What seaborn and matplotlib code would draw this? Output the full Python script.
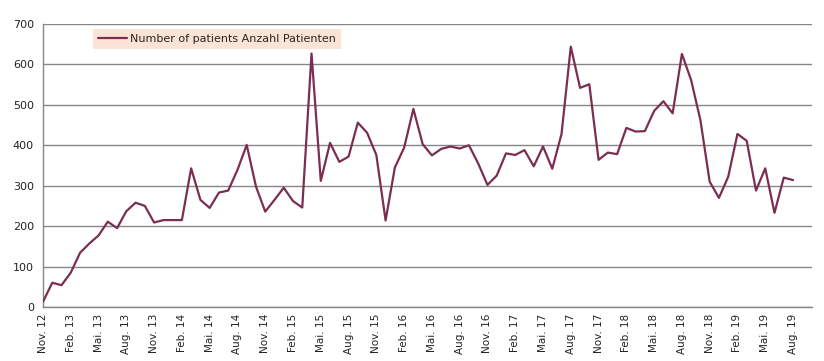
import pandas as pd
import seaborn as sns
import matplotlib.pyplot as plt

# monthly counts, Nov. 2012 - Aug. 2019
patients = [13, 60, 54, 85, 134, 157, 177, 211, 195, 237, 258, 250,
            209, 215, 215, 215, 343, 265, 245, 283, 288, 339, 401, 298,
            236, 265, 295, 262, 246, 627, 312, 406, 359, 372, 456, 431,
            376, 214, 345, 394, 490, 403, 375, 391, 397, 392, 400, 355,
            302, 325, 380, 376, 388, 348, 397, 342, 428, 644, 542, 551,
            364, 382, 378, 443, 434, 435, 485, 509, 479, 626, 561, 462,
            310, 270, 322, 428, 411, 288, 343, 233, 320, 314]

tick_months = ["Nov.", "Feb.", "Mai.", "Aug."]
first_year = 12
tick_labels = []
year = first_year
for i in range(28):
    m = tick_months[i % 4]
    if m == "Feb.":
        year += 1
    tick_labels.append(f"{m} {year}")

df = pd.DataFrame({"Monat": range(len(patients)), "Patienten": patients})

sns.set_style("white")
plt.rcParams["font.family"] = ["DejaVu Sans"]

fig = plt.figure(figsize=(8.24, 3.61), dpi=100)
ax = fig.add_axes([43 / 824, 1 - 307 / 361, (812 - 43) / 824, (307 - 24) / 361])

sns.lineplot(data=df, x="Monat", y="Patienten", color="#7B2E52", linewidth=1.6,
             label="Number of patients Anzahl Patienten", ax=ax, zorder=3)

ax.set_xlim(0, 83.05)
ax.set_ylim(0, 700)
ax.set_yticks(range(0, 701, 100))
ax.set_xticks(range(0, 82, 3))
ax.set_xticklabels(tick_labels, rotation=90, fontsize=7.5, color="#222222")
ax.tick_params(axis="y", labelsize=8, colors="#222222", length=3, color="#868686")
ax.tick_params(axis="x", length=3, color="#868686", pad=2)
ax.tick_params(axis="both", which="both", direction="out")
ax.yaxis.grid(True, color="#868686", linewidth=1)
ax.xaxis.grid(False)
ax.set_axisbelow(True)
for side in ["top", "right"]:
    ax.spines[side].set_visible(False)
for side in ["left", "bottom"]:
    ax.spines[side].set_color("#868686")
    ax.spines[side].set_linewidth(1)
ax.set_xlabel("")
ax.set_ylabel("")

leg = ax.legend(loc="upper left", bbox_to_anchor=(93 / 824, 1 - 29 / 361),
                bbox_transform=fig.transFigure, borderaxespad=0, frameon=True,
                fontsize=8, handlelength=2.6, handletextpad=0.3,
                borderpad=0.45, fancybox=False)
leg.get_frame().set_facecolor("#FBE4D5")
leg.get_frame().set_edgecolor("none")
leg.get_frame().set_alpha(1)
leg.set_zorder(5)

fig.savefig("out.png", dpi=100)
